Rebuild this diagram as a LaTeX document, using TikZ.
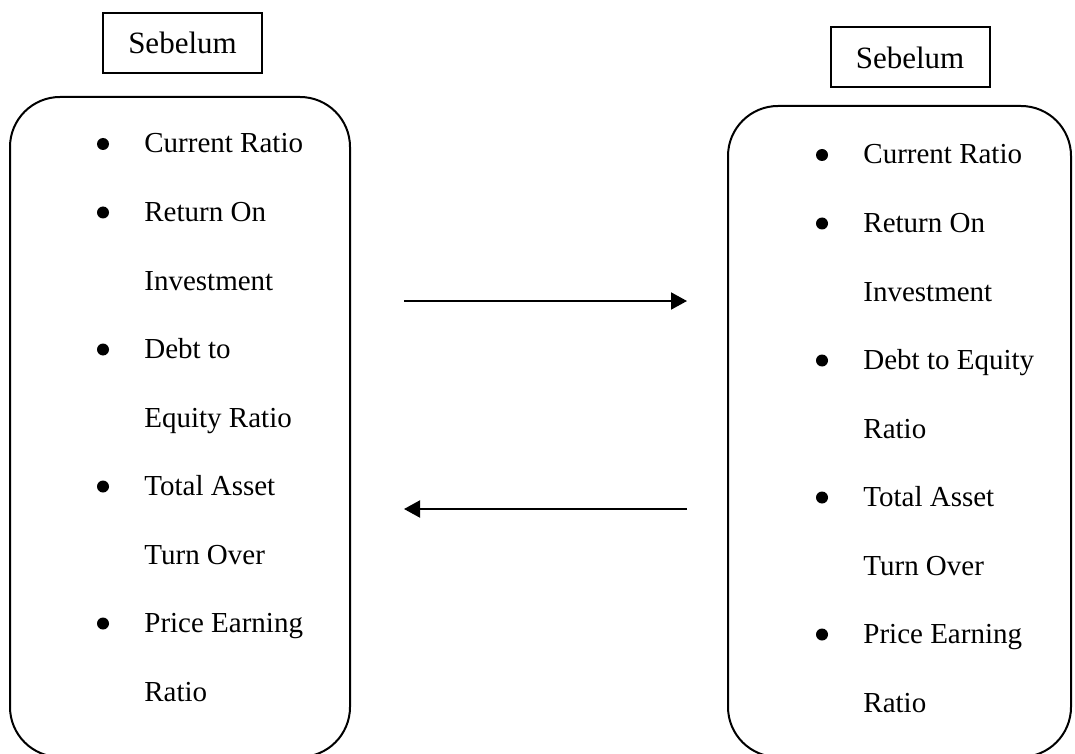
\documentclass[tikz,border=0pt]{standalone}
\usepackage{fontspec}
\setmainfont{Liberation Serif}
\usetikzlibrary{arrows.meta}

\begin{document}
\begin{tikzpicture}[x=0.5pt,y=-0.5pt,
    panel/.style={draw, line width=1pt, rounded corners=25pt, inner sep=0pt, outer sep=0pt},
    tag/.style={draw, line width=1pt, minimum width=79.5pt, minimum height=30pt, font=\fontsize{15.5}{18}\selectfont},
    entry/.style={anchor=base west, inner sep=0pt, font=\fontsize{14.5}{17}\selectfont},
    flow/.style={line width=1pt, -{Triangle[length=8pt,width=8.5pt]}}]
    \useasboundingbox (0,0) rectangle (1075,754);

    % Labels
    \node[tag] (tagL) at (182.5,43) {Sebelum};
    \node[tag] (tagR) at (910,57.5) {Sebelum};

    % Panels
    \node[panel, minimum width=170pt, minimum height=330pt] (boxL) at (180,427) {};
    \node[panel, minimum width=171.5pt, minimum height=325.5pt] (boxR) at (899.5,431.5) {};

    % Left list
    \foreach \txt/\b [count=\i] in {Current Ratio/1, Return On/1, Investment/0, Debt to/1,
        Equity Ratio/0, Total Asset/1, Turn Over/0, Price Earning/1, Ratio/0} {
        \node[entry] (itemL\i) at (144,{153+68.5*(\i-1)}) {\txt};
        \ifnum\b=1 \fill (103,{144+68.5*(\i-1)}) circle (3pt); \fi
    }

    % Right list
    \foreach \txt/\b [count=\i] in {Current Ratio/1, Return On/1, Investment/0, Debt to Equity/1,
        Ratio/0, Total Asset/1, Turn Over/0, Price Earning/1, Ratio/0} {
        \node[entry] (itemR\i) at (863,{164+68.5*(\i-1)}) {\txt};
        \ifnum\b=1 \fill (822,{155+68.5*(\i-1)}) circle (3pt); \fi
    }

    % Arrows
    \coordinate (goA) at (404,301);
    \coordinate (goB) at (687,301);
    \coordinate (backA) at (687,509);
    \coordinate (backB) at (404,509);
    \draw[flow] (goA) -- (goB);
    \draw[flow] (backA) -- (backB);
\end{tikzpicture}
\end{document}
